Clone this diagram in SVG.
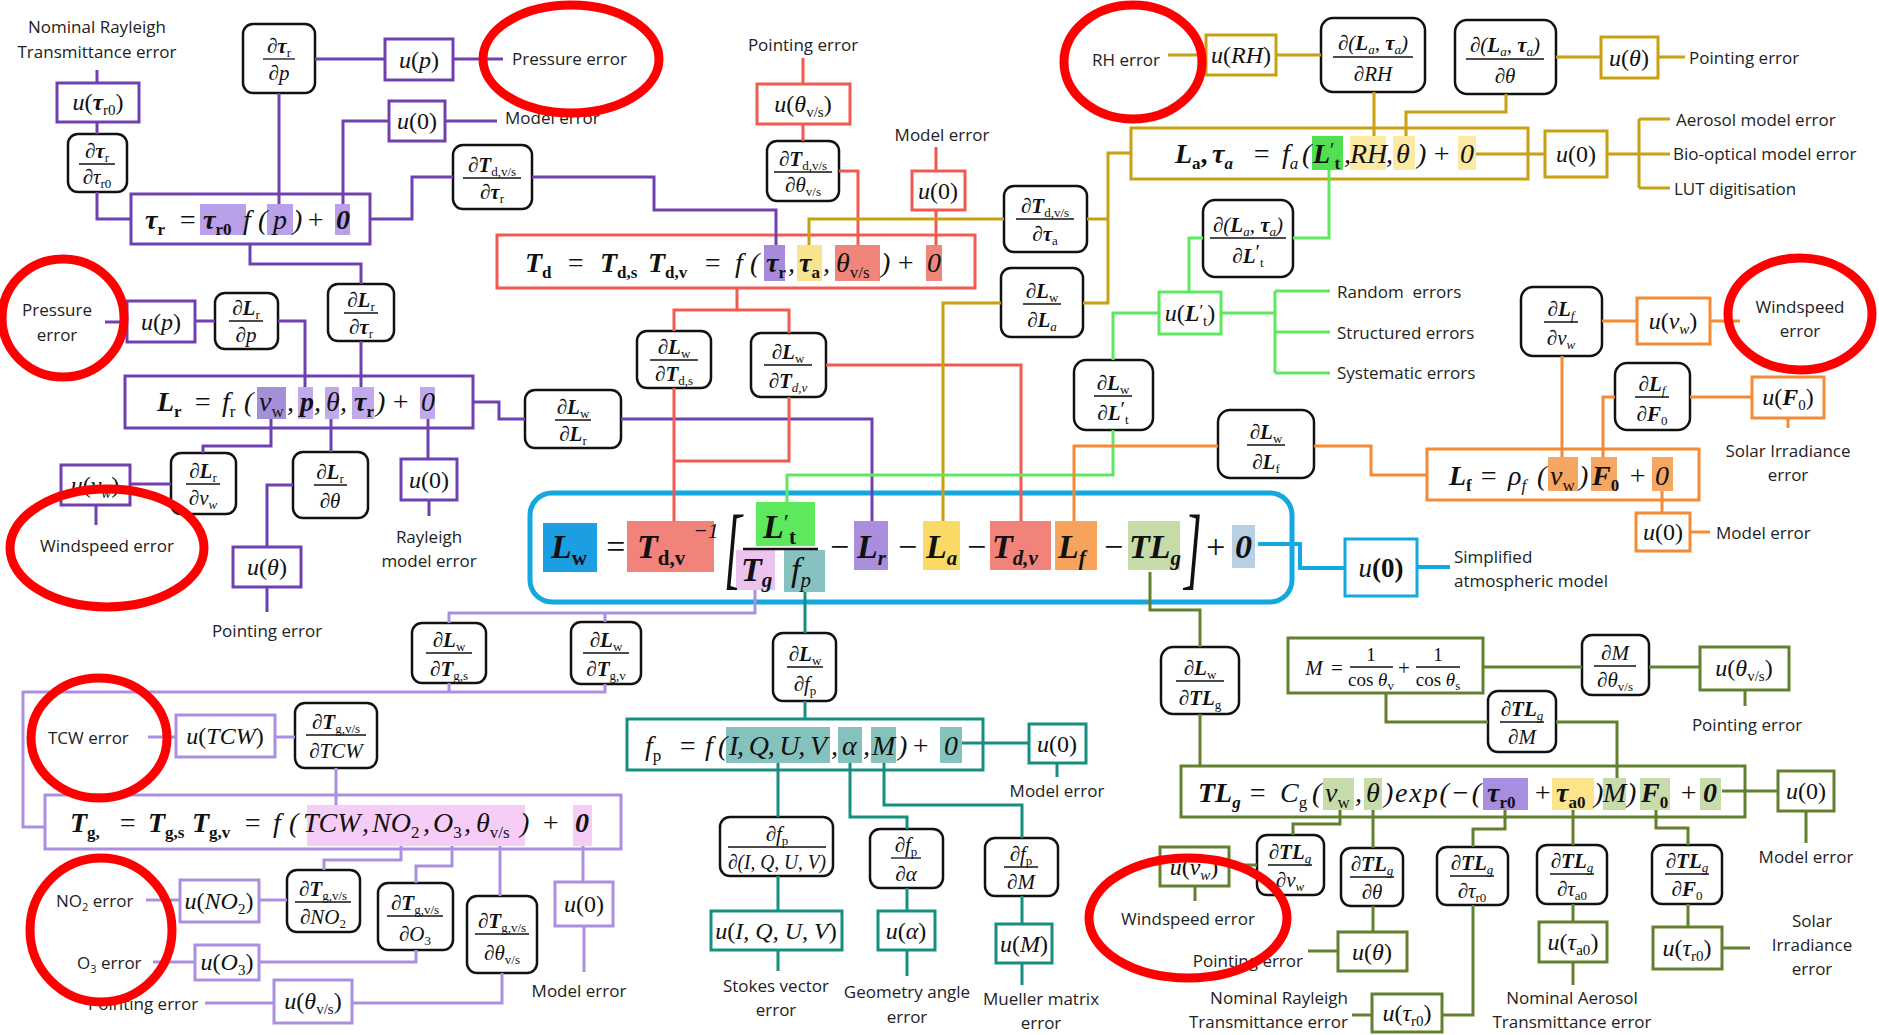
<svg xmlns="http://www.w3.org/2000/svg" width="1879" height="1035" viewBox="0 0 1879 1035">
<style>
.bx{fill:#fff;stroke:#111;stroke-width:2.5}
.k{fill:#fff;stroke-width:3}
.c{fill:none;stroke-width:3}
.pu{stroke:#7040b0}.rd{stroke:#f25a50}.ol{stroke:#c8a012}.gr{stroke:#5ee85e}.or{stroke:#f58a35}.cy{stroke:#14a8e0}.lv{stroke:#ab8fe0}.tl{stroke:#178f80}.dg{stroke:#62802e}
.fl{stroke:#111;stroke-width:1.3}
.fr{font-family:"Liberation Serif","DejaVu Serif",serif;font-size:21px;font-style:italic;text-anchor:middle;fill:#111}
.fs{font-size:13px;font-style:normal}
.fsi{font-size:13px}
.b{font-weight:bold}
.n{font-style:normal}
.u{font-family:"Liberation Serif","DejaVu Serif",serif;font-size:24px;font-style:italic;text-anchor:middle;fill:#111}
.us{font-size:15px;font-style:normal}
.usi{font-size:15px}
.eq{font-family:"Liberation Serif","DejaVu Serif",serif;font-size:28px;font-style:italic;fill:#111}
.eqs{font-size:17px;font-style:normal}
.eqsi{font-size:17px}
.L{font-size:34px}
.Ls{font-size:21px;font-style:normal}
.Lsi{font-size:21px}
.lbl{font-family:"Open Sans","Liberation Sans",sans-serif;font-size:17px;fill:#222}
.mid{text-anchor:middle}
.end{text-anchor:end}
.ann{fill:none;stroke:#ff0000;stroke-width:9}
</style>
<rect width="1879" height="1035" fill="#fff"/>

<!-- ===== Equation nodes ===== -->
<g id="eq_taur">
<rect class="k pu" x="131" y="194" width="239" height="50"/>
<rect x="200" y="204" width="46" height="31" fill="#b9a0e8"/><rect x="267" y="204" width="26" height="31" fill="#b9a0e8"/><rect x="335" y="204" width="15" height="31" fill="#b9a0e8"/>
<text class="eq b" x="145" y="229">τ<tspan class="eqs" dy="6">r</tspan></text>
<text class="eq n" x="178" y="229">=</text>
<text class="eq b" x="203" y="229">τ<tspan class="eqs" dy="6">r0</tspan></text>
<text class="eq" x="243" y="229">f</text>
<text class="eq n" x="258" y="229">(</text>
<text class="eq" x="273" y="229">p</text>
<text class="eq n" x="293" y="229">)</text>
<text class="eq n" x="306" y="229">+</text>
<text class="eq b n" x="336" y="229">0</text>
</g>

<g id="eq_Td">
<rect class="k rd" x="497" y="235" width="478" height="53"/>
<rect x="764" y="245" width="21" height="36" fill="#a68bd9"/><rect x="797" y="245" width="25" height="36" fill="#f8e48e"/><rect x="835" y="245" width="45" height="36" fill="#f08579"/><rect x="926" y="245" width="16" height="36" fill="#f08579"/>
<text class="eq b" x="525" y="272">T<tspan class="eqs" dy="6">d</tspan></text>
<text class="eq n" x="566" y="272">=</text>
<text class="eq b" x="600" y="272">T<tspan class="eqs" dy="6">d,s</tspan></text>
<text class="eq b" x="648" y="272">T<tspan class="eqs" dy="6">d,v</tspan></text>
<text class="eq n" x="703" y="272">=</text>
<text class="eq" x="735" y="272">f</text>
<text class="eq n" x="750" y="272">(</text>
<text class="eq b" x="766" y="272">τ<tspan class="eqs" dy="6">r</tspan></text>
<text class="eq n" x="788" y="272">,</text>
<text class="eq b" x="799" y="272">τ<tspan class="eqs" dy="6">a</tspan></text>
<text class="eq n" x="823" y="272">,</text>
<text class="eq" x="836" y="272">θ<tspan class="eqs" dy="6">v/s</tspan></text>
<text class="eq n" x="881" y="272">)</text>
<text class="eq n" x="896" y="272">+</text>
<text class="eq n" x="927" y="272">0</text>
</g>

<g id="eq_La">
<rect class="k ol" x="1131" y="128" width="397" height="51"/>
<rect x="1312" y="136" width="31" height="34" fill="#52e052"/><rect x="1350" y="136" width="36" height="34" fill="#fce9a4"/><rect x="1393" y="136" width="22" height="34" fill="#fce9a4"/><rect x="1458" y="136" width="18" height="34" fill="#fce9a4"/>
<text class="eq b" x="1175" y="163">L<tspan class="eqs" dy="6">a</tspan><tspan class="n" dy="-6">,</tspan></text>
<text class="eq b" x="1212" y="163">τ<tspan class="eqsi" dy="6">a</tspan></text>
<text class="eq n" x="1252" y="163">=</text>
<text class="eq" x="1282" y="163">f<tspan class="eqsi" dy="6">a</tspan></text>
<text class="eq n" x="1302" y="163">(</text>
<text class="eq b" x="1313" y="163">L<tspan class="n" style="font-weight:normal;font-size:20px" dy="-6">′</tspan><tspan class="eqs" dy="12">t</tspan></text>
<text class="eq n" x="1344" y="163">,</text>
<text class="eq" x="1350" y="163">RH</text>
<text class="eq n" x="1386" y="163">,</text>
<text class="eq" x="1396" y="163">θ</text>
<text class="eq n" x="1417" y="163">)</text>
<text class="eq n" x="1432" y="163">+</text>
<text class="eq n" x="1460" y="163">0</text>
</g>

<g id="eq_Lr">
<rect class="k pu" x="125" y="376" width="348" height="52"/>
<rect x="257" y="387" width="29" height="32" fill="#a48fd9"/><rect x="298" y="387" width="15" height="32" fill="#c1aaec"/><rect x="325" y="387" width="14" height="32" fill="#c1aaec"/><rect x="352" y="387" width="22" height="32" fill="#c1aaec"/><rect x="420" y="387" width="15" height="32" fill="#c1aaec"/>
<text class="eq b" x="157" y="411">L<tspan class="eqs" dy="6">r</tspan></text>
<text class="eq n" x="193" y="411">=</text>
<text class="eq" x="222" y="411">f<tspan class="eqs" dy="6">r</tspan></text>
<text class="eq n" x="244" y="411">(</text>
<text class="eq" x="259" y="411">v<tspan class="eqs" dy="6">w</tspan></text>
<text class="eq n" x="287" y="411">,</text>
<text class="eq b" x="300" y="411">p</text>
<text class="eq n" x="314" y="411">,</text>
<text class="eq" x="326" y="411">θ</text>
<text class="eq n" x="340" y="411">,</text>
<text class="eq b" x="354" y="411">τ<tspan class="eqs" dy="6">r</tspan></text>
<text class="eq n" x="376" y="411">)</text>
<text class="eq n" x="391" y="411">+</text>
<text class="eq n" x="421" y="411">0</text>
</g>

<g id="eq_Lf">
<rect class="k or" x="1427" y="449" width="272" height="51"/>
<rect x="1548" y="457" width="30" height="34" fill="#f5a661"/><rect x="1591" y="457" width="26" height="34" fill="#f5a661"/><rect x="1652" y="457" width="21" height="34" fill="#f5a661"/>
<text class="eq b" x="1449" y="485">L<tspan class="eqs" dy="6">f</tspan></text>
<text class="eq n" x="1479" y="485">=</text>
<text class="eq" x="1508" y="485">ρ<tspan class="eqsi" dy="6">f</tspan></text>
<text class="eq n" x="1537" y="485">(</text>
<text class="eq" x="1550" y="485">v<tspan class="eqs" dy="6">w</tspan></text>
<text class="eq n" x="1579" y="485">)</text>
<text class="eq b" x="1592" y="485">F<tspan class="eqs" dy="6">0</tspan></text>
<text class="eq n" x="1628" y="485">+</text>
<text class="eq n" x="1655" y="485">0</text>
</g>

<g id="eq_Tg">
<rect class="k lv" x="45" y="795" width="576" height="54"/>
<rect x="307" y="805" width="218" height="41" fill="#f6cdf6"/><rect x="573" y="805" width="19" height="41" fill="#f6cdf6"/>
<text class="eq b" x="70" y="832">T<tspan class="eqs" dy="6">g,</tspan></text>
<text class="eq n" x="118" y="832">=</text>
<text class="eq b" x="148" y="832">T<tspan class="eqs" dy="6">g,s</tspan></text>
<text class="eq b" x="192" y="832">T<tspan class="eqs" dy="6">g,v</tspan></text>
<text class="eq n" x="243" y="832">=</text>
<text class="eq" x="273" y="832">f</text>
<text class="eq n" x="289" y="832">(</text>
<text class="eq" x="303" y="832">TCW</text>
<text class="eq n" x="362" y="832">,</text>
<text class="eq" x="372" y="832">NO<tspan class="eqs" dy="6">2</tspan></text>
<text class="eq n" x="423" y="832">,</text>
<text class="eq" x="433" y="832">O<tspan class="eqs" dy="6">3</tspan></text>
<text class="eq n" x="464" y="832">,</text>
<text class="eq" x="476" y="832">θ<tspan class="eqs" dy="6">v/s</tspan></text>
<text class="eq n" x="520" y="832">)</text>
<text class="eq n" x="541" y="832">+</text>
<text class="eq b n" x="575" y="832">0</text>
</g>

<g id="eq_fp">
<rect class="k tl" x="627" y="719" width="356" height="51"/>
<rect x="726" y="727" width="104" height="36" fill="#85c2bd"/><rect x="838" y="727" width="24" height="36" fill="#85c2bd"/><rect x="871" y="727" width="25" height="36" fill="#85c2bd"/><rect x="940" y="727" width="22" height="36" fill="#85c2bd"/>
<text class="eq" x="645" y="755">f<tspan class="eqs" dy="6">p</tspan></text>
<text class="eq n" x="678" y="755">=</text>
<text class="eq" x="705" y="755">f</text>
<text class="eq n" x="718" y="755">(</text>
<text class="eq" x="729" y="755" textLength="98" lengthAdjust="spacing">I, Q, U, V</text>
<text class="eq n" x="831" y="755">,</text>
<text class="eq" x="842" y="755">α</text>
<text class="eq n" x="863" y="755">,</text>
<text class="eq" x="872" y="755">M</text>
<text class="eq n" x="898" y="755">)</text>
<text class="eq n" x="911" y="755">+</text>
<text class="eq n" x="944" y="755">0</text>
</g>

<g id="eq_TLg">
<rect class="k dg" x="1181" y="766" width="564" height="51"/>
<rect x="1323" y="778" width="31" height="32" fill="#c8dcab"/><rect x="1364" y="778" width="18" height="32" fill="#c8dcab"/><rect x="1483" y="778" width="45" height="32" fill="#a88ee0"/><rect x="1552" y="778" width="42" height="32" fill="#fbe48c"/><rect x="1603" y="778" width="23" height="32" fill="#c8dcab"/><rect x="1640" y="778" width="30" height="32" fill="#c8dcab"/><rect x="1700" y="778" width="21" height="32" fill="#c8dcab"/>
<text class="eq b" x="1198" y="802">TL<tspan class="eqsi" dy="6">g</tspan></text>
<text class="eq n" x="1248" y="802">=</text>
<text class="eq" x="1280" y="802">C<tspan class="eqs" dy="6">g</tspan></text>
<text class="eq n" x="1312" y="802">(</text>
<text class="eq" x="1325" y="802">v<tspan class="eqs" dy="6">w</tspan></text>
<text class="eq n" x="1355" y="802">,</text>
<text class="eq" x="1366" y="802">θ</text>
<text class="eq n" x="1384" y="802">)</text>
<text class="eq n" x="1395" y="802" textLength="86" lengthAdjust="spacing">exp(−(</text>
<text class="eq b" x="1487" y="802">τ<tspan class="eqs" dy="6">r0</tspan></text>
<text class="eq n" x="1533" y="802">+</text>
<text class="eq b" x="1556" y="802">τ<tspan class="eqs" dy="6">a0</tspan></text>
<text class="eq n" x="1594" y="802">)</text>
<text class="eq" x="1603" y="802">M</text>
<text class="eq n" x="1627" y="802">)</text>
<text class="eq b" x="1641" y="802">F<tspan class="eqs" dy="6">0</tspan></text>
<text class="eq n" x="1679" y="802">+</text>
<text class="eq b n" x="1703" y="802">0</text>
</g>

<g id="eq_M">
<rect class="k dg" x="1288" y="638" width="195" height="55"/>
<text class="fr" x="1314" y="675">M</text>
<text class="fr n" x="1337" y="675">=</text>
<text class="fr n" x="1371" y="661" style="font-size:19px">1</text>
<path class="fl" d="M1350,667 H1393"/>
<text class="fr n" x="1371" y="686" style="font-size:19px">cos <tspan style="font-style:italic">θ</tspan><tspan class="fsi" dy="4">v</tspan></text>
<text class="fr n" x="1404" y="675">+</text>
<text class="fr n" x="1438" y="661" style="font-size:19px">1</text>
<path class="fl" d="M1416,667 H1460"/>
<text class="fr n" x="1438" y="686" style="font-size:19px">cos <tspan style="font-style:italic">θ</tspan><tspan class="fsi" dy="4">s</tspan></text>
</g>

<g id="eq_Lw">
<rect x="530" y="493" width="762" height="109" rx="22" fill="#fff" stroke="#14a8e0" stroke-width="5"/>
<rect x="543" y="523" width="54" height="49" fill="#1c9fe2"/>
<rect x="627" y="521" width="87" height="51" fill="#f2837b"/>
<rect x="756" y="502" width="59" height="44" fill="#5ee85e"/>
<rect x="736" y="550" width="39" height="40" fill="#ecc3ee"/>
<rect x="784" y="550" width="41" height="42" fill="#88c2c0"/>
<rect x="854" y="521" width="34" height="49" fill="#a98ede"/>
<rect x="923" y="521" width="37" height="49" fill="#fbd966"/>
<rect x="990" y="521" width="61" height="49" fill="#f2837b"/>
<rect x="1055" y="521" width="42" height="49" fill="#f7a35c"/>
<rect x="1128" y="521" width="52" height="49" fill="#c6dba8"/>
<rect x="1232" y="525" width="23" height="43" fill="#b9cfe3"/>
<text class="eq b L" x="551" y="558">L<tspan class="Ls" dy="7">w</tspan></text>
<text class="eq n L" x="604" y="558">=</text>
<text class="eq b L" x="637" y="558">T<tspan class="Ls" dy="7">d,v</tspan></text>
<text class="eq n" x="693" y="538" style="font-size:22px">−1</text>
<text class="eq n" x="0" y="0" style="font-size:92px" transform="translate(724,578) scale(0.5,1)">[</text>
<text class="eq b L" x="763" y="538">L<tspan class="n" style="font-weight:normal;font-size:24px" dy="-8">′</tspan><tspan class="Ls" dy="14">t</tspan></text>
<path d="M743,549 H818" stroke="#111" stroke-width="2.5"/>
<text class="eq b L" x="741" y="581">T<tspan class="Lsi" dy="6">g</tspan></text>
<text class="eq L" x="791" y="581">f<tspan class="Lsi" dy="6">p</tspan></text>
<text class="eq n L" x="828" y="558">−</text>
<text class="eq b L" x="857" y="558">L<tspan class="Lsi" dy="7">r</tspan></text>
<text class="eq n L" x="896" y="558">−</text>
<text class="eq b L" x="926" y="558">L<tspan class="Lsi" dy="7">a</tspan></text>
<text class="eq n L" x="965" y="558">−</text>
<text class="eq b L" x="992" y="558">T<tspan class="Lsi" dy="7">d,v</tspan></text>
<text class="eq b L" x="1058" y="558">L<tspan class="Lsi" dy="7">f</tspan></text>
<text class="eq n L" x="1102" y="558">−</text>
<text class="eq b L" x="1129" y="558">TL<tspan class="Lsi" dy="7">g</tspan></text>
<text class="eq n" x="0" y="0" style="font-size:92px" transform="translate(1184,578) scale(0.5,1)">]</text>
<text class="eq n L" x="1204" y="558">+</text>
<text class="eq b n L" x="1235" y="558">0</text>
</g>

<!-- ===== Partial derivative nodes ===== -->
<g id="d_taur_p"><rect class="bx" x="243" y="24" width="72" height="69" rx="10"/><text class="fr" x="279" y="53">∂<tspan class="b">τ</tspan><tspan class="fs" dy="4">r</tspan></text><path class="fl" d="M263,59 H295"/><text class="fr" x="279" y="80">∂p</text></g>
<g id="d_taur_taur0"><rect class="bx" x="68" y="134" width="59" height="58" rx="10"/><text class="fr" x="97" y="158">∂<tspan class="b">τ</tspan><tspan class="fs" dy="4">r</tspan></text><path class="fl" d="M79,164 H115"/><text class="fr" x="97" y="184">∂τ<tspan class="fs" dy="4">r0</tspan></text></g>
<g id="d_Td_taur"><rect class="bx" x="453" y="145" width="79" height="64" rx="10"/><text class="fr" x="492" y="172">∂<tspan class="b">T</tspan><tspan class="fs" dy="4">d,v/s</tspan></text><path class="fl" d="M463,178 H521"/><text class="fr" x="492" y="199">∂<tspan class="b">τ</tspan><tspan class="fs" dy="4">r</tspan></text></g>
<g id="d_Td_theta"><rect class="bx" x="767" y="141" width="72" height="60" rx="10"/><text class="fr" x="803" y="166">∂<tspan class="b">T</tspan><tspan class="fs" dy="4">d,v/s</tspan></text><path class="fl" d="M774,172 H832"/><text class="fr" x="803" y="192">∂θ<tspan class="fs" dy="4">v/s</tspan></text></g>
<g id="d_Td_taua"><rect class="bx" x="1004" y="186" width="83" height="66" rx="10"/><text class="fr" x="1045" y="213">∂<tspan class="b">T</tspan><tspan class="fs" dy="4">d,v/s</tspan></text><path class="fl" d="M1016,219 H1074"/><text class="fr" x="1045" y="241">∂<tspan class="b">τ</tspan><tspan class="fs" dy="4">a</tspan></text></g>
<g id="d_Lw_La"><rect class="bx" x="1001" y="268" width="82" height="69" rx="10"/><text class="fr" x="1042" y="298">∂<tspan class="b">L</tspan><tspan class="fs" dy="4">w</tspan></text><path class="fl" d="M1023,304 H1061"/><text class="fr" x="1042" y="327">∂<tspan class="b">L</tspan><tspan class="fsi" dy="4">a</tspan></text></g>
<g id="d_LaTa_RH"><rect class="bx" x="1321" y="18" width="104" height="74" rx="12"/><text class="fr" x="1373" y="50">∂(<tspan class="b">L</tspan><tspan class="fsi" dy="4">a</tspan><tspan dy="-4">, </tspan><tspan class="b">τ</tspan><tspan class="fsi" dy="4">a</tspan><tspan dy="-4">)</tspan></text><path class="fl" d="M1333,57 H1413"/><text class="fr" x="1373" y="81">∂RH</text></g>
<g id="d_LaTa_theta"><rect class="bx" x="1455" y="20" width="101" height="74" rx="12"/><text class="fr" x="1505" y="52">∂(<tspan class="b">L</tspan><tspan class="fsi" dy="4">a</tspan><tspan dy="-4">, </tspan><tspan class="b">τ</tspan><tspan class="fsi" dy="4">a</tspan><tspan dy="-4">)</tspan></text><path class="fl" d="M1466,59 H1544"/><text class="fr" x="1505" y="83">∂θ</text></g>
<g id="d_LaTa_Lt"><rect class="bx" x="1203" y="200" width="90" height="77" rx="12"/><text class="fr" x="1248" y="232">∂(<tspan class="b">L</tspan><tspan class="fsi" dy="4">a</tspan><tspan dy="-4">, </tspan><tspan class="b">τ</tspan><tspan class="fsi" dy="4">a</tspan><tspan dy="-4">)</tspan></text><path class="fl" d="M1210,238 H1286"/><text class="fr" x="1248" y="263">∂<tspan class="b">L</tspan><tspan class="n" dy="-4">′</tspan><tspan class="fs" dy="8">t</tspan></text></g>
<g id="d_Lw_Lt"><rect class="bx" x="1074" y="360" width="79" height="70" rx="12"/><text class="fr" x="1113" y="390">∂<tspan class="b">L</tspan><tspan class="fs" dy="4">w</tspan></text><path class="fl" d="M1094,396 H1132"/><text class="fr" x="1113" y="420">∂<tspan class="b">L</tspan><tspan class="n" dy="-4">′</tspan><tspan class="fs" dy="8">t</tspan></text></g>
<g id="d_Lw_Lf"><rect class="bx" x="1218" y="410" width="96" height="68" rx="12"/><text class="fr" x="1266" y="439">∂<tspan class="b">L</tspan><tspan class="fs" dy="4">w</tspan></text><path class="fl" d="M1247,445 H1285"/><text class="fr" x="1266" y="469">∂<tspan class="b">L</tspan><tspan class="fs" dy="4">f</tspan></text></g>
<g id="d_Lf_vw"><rect class="bx" x="1521" y="287" width="81" height="69" rx="12"/><text class="fr" x="1561" y="316">∂<tspan class="b">L</tspan><tspan class="fsi" dy="4">f</tspan></text><path class="fl" d="M1544,322 H1578"/><text class="fr" x="1561" y="345">∂v<tspan class="fsi" dy="4">w</tspan></text></g>
<g id="d_Lf_F0"><rect class="bx" x="1615" y="363" width="75" height="67" rx="12"/><text class="fr" x="1652" y="391">∂<tspan class="b">L</tspan><tspan class="fsi" dy="4">f</tspan></text><path class="fl" d="M1635,397 H1669"/><text class="fr" x="1652" y="421">∂<tspan class="b">F</tspan><tspan class="fs" dy="4">0</tspan></text></g>
<g id="d_Lr_p"><rect class="bx" x="215" y="293" width="63" height="56" rx="10"/><text class="fr" x="246" y="315">∂<tspan class="b">L</tspan><tspan class="fs" dy="4">r</tspan></text><path class="fl" d="M229,321 H263"/><text class="fr" x="246" y="342">∂p</text></g>
<g id="d_Lr_taur"><rect class="bx" x="328" y="284" width="66" height="57" rx="10"/><text class="fr" x="361" y="307">∂<tspan class="b">L</tspan><tspan class="fs" dy="4">r</tspan></text><path class="fl" d="M344,313 H378"/><text class="fr" x="361" y="334">∂<tspan class="b">τ</tspan><tspan class="fs" dy="4">r</tspan></text></g>
<g id="d_Lw_Lr"><rect class="bx" x="525" y="390" width="96" height="58" rx="10"/><text class="fr" x="573" y="414">∂<tspan class="b">L</tspan><tspan class="fs" dy="4">w</tspan></text><path class="fl" d="M555,420 H591"/><text class="fr" x="573" y="441">∂<tspan class="b">L</tspan><tspan class="fs" dy="4">r</tspan></text></g>
<g id="d_Lw_Tds"><rect class="bx" x="637" y="331" width="74" height="57" rx="10"/><text class="fr" x="674" y="354">∂<tspan class="b">L</tspan><tspan class="fs" dy="4">w</tspan></text><path class="fl" d="M650,360 H698"/><text class="fr" x="674" y="381">∂<tspan class="b">T</tspan><tspan class="fs" dy="4">d,s</tspan></text></g>
<g id="d_Lw_Tdv"><rect class="bx" x="751" y="333" width="75" height="64" rx="10"/><text class="fr" x="788" y="359">∂<tspan class="b">L</tspan><tspan class="fs" dy="4">w</tspan></text><path class="fl" d="M764,365 H812"/><text class="fr" x="788" y="388">∂<tspan class="b">T</tspan><tspan class="fsi" dy="4">d,v</tspan></text></g>
<g id="d_Lr_vw"><rect class="bx" x="171" y="453" width="65" height="61" rx="10"/><text class="fr" x="203" y="478">∂<tspan class="b">L</tspan><tspan class="fs" dy="4">r</tspan></text><path class="fl" d="M186,484 H220"/><text class="fr" x="203" y="505">∂v<tspan class="fsi" dy="4">w</tspan></text></g>
<g id="d_Lr_theta"><rect class="bx" x="293" y="452" width="75" height="66" rx="10"/><text class="fr" x="330" y="479">∂<tspan class="b">L</tspan><tspan class="fs" dy="4">r</tspan></text><path class="fl" d="M314,485 H347"/><text class="fr" x="330" y="508">∂θ</text></g>
<g id="d_Lw_Tgs"><rect class="bx" x="412" y="623" width="74" height="60" rx="10"/><text class="fr" x="449" y="647">∂<tspan class="b">L</tspan><tspan class="fs" dy="4">w</tspan></text><path class="fl" d="M426,653 H472"/><text class="fr" x="449" y="676">∂<tspan class="b">T</tspan><tspan class="fs" dy="4">g,s</tspan></text></g>
<g id="d_Lw_Tgv"><rect class="bx" x="571" y="622" width="70" height="62" rx="10"/><text class="fr" x="606" y="647">∂<tspan class="b">L</tspan><tspan class="fs" dy="4">w</tspan></text><path class="fl" d="M583,653 H629"/><text class="fr" x="606" y="676">∂<tspan class="b">T</tspan><tspan class="fs" dy="4">g,v</tspan></text></g>
<g id="d_Lw_fp"><rect class="bx" x="773" y="633" width="63" height="68" rx="10"/><text class="fr" x="805" y="661">∂<tspan class="b">L</tspan><tspan class="fs" dy="4">w</tspan></text><path class="fl" d="M787,667 H823"/><text class="fr" x="805" y="691">∂f<tspan class="fs" dy="4">p</tspan></text></g>
<g id="d_Tg_TCW"><rect class="bx" x="295" y="703" width="82" height="65" rx="10"/><text class="fr" x="336" y="729">∂<tspan class="b">T</tspan><tspan class="fs" dy="4">g,v/s</tspan></text><path class="fl" d="M306,735 H366"/><text class="fr" x="336" y="758">∂TCW</text></g>
<g id="d_Tg_NO2"><rect class="bx" x="287" y="870" width="73" height="62" rx="10"/><text class="fr" x="323" y="896">∂<tspan class="b">T</tspan><tspan class="fs" dy="4">g,v/s</tspan></text><path class="fl" d="M295,902 H351"/><text class="fr" x="323" y="924">∂NO<tspan class="fs" dy="4">2</tspan></text></g>
<g id="d_Tg_O3"><rect class="bx" x="378" y="883" width="75" height="67" rx="10"/><text class="fr" x="415" y="910">∂<tspan class="b">T</tspan><tspan class="fs" dy="4">g,v/s</tspan></text><path class="fl" d="M387,916 H443"/><text class="fr" x="415" y="941">∂O<tspan class="fs" dy="4">3</tspan></text></g>
<g id="d_Tg_theta"><rect class="bx" x="467" y="896" width="70" height="77" rx="10"/><text class="fr" x="502" y="928">∂<tspan class="b">T</tspan><tspan class="fs" dy="4">g,v/s</tspan></text><path class="fl" d="M475,934 H529"/><text class="fr" x="502" y="960">∂θ<tspan class="fs" dy="4">v/s</tspan></text></g>
<g id="d_fp_IQUV"><rect class="bx" x="720" y="817" width="113" height="59" rx="10"/><text class="fr" x="777" y="841">∂f<tspan class="fs" dy="4">p</tspan></text><path class="fl" d="M728,847 H826"/><text class="fr" x="777" y="869" textLength="98" lengthAdjust="spacingAndGlyphs">∂(I, Q, U, V)</text></g>
<g id="d_fp_alpha"><rect class="bx" x="870" y="829" width="73" height="59" rx="10"/><text class="fr" x="906" y="852">∂f<tspan class="fs" dy="4">p</tspan></text><path class="fl" d="M891,858 H921"/><text class="fr" x="906" y="881">∂α</text></g>
<g id="d_fp_M"><rect class="bx" x="985" y="838" width="73" height="58" rx="10"/><text class="fr" x="1021" y="861">∂f<tspan class="fs" dy="4">p</tspan></text><path class="fl" d="M1004,867 H1038"/><text class="fr" x="1021" y="889">∂M</text></g>
<g id="d_Lw_TLg"><rect class="bx" x="1161" y="647" width="78" height="67" rx="12"/><text class="fr" x="1200" y="675">∂<tspan class="b">L</tspan><tspan class="fs" dy="4">w</tspan></text><path class="fl" d="M1176,681 H1224"/><text class="fr" x="1200" y="705">∂<tspan class="b">TL</tspan><tspan class="fs" dy="4">g</tspan></text></g>
<g id="d_M_theta"><rect class="bx" x="1582" y="635" width="67" height="60" rx="10"/><text class="fr" x="1615" y="660">∂M</text><path class="fl" d="M1594,666 H1636"/><text class="fr" x="1615" y="687">∂θ<tspan class="fs" dy="4">v/s</tspan></text></g>
<g id="d_TLg_M"><rect class="bx" x="1488" y="691" width="68" height="61" rx="10"/><text class="fr" x="1522" y="716">∂<tspan class="b">TL</tspan><tspan class="fsi" dy="4">g</tspan></text><path class="fl" d="M1500,722 H1544"/><text class="fr" x="1522" y="744">∂M</text></g>
<g id="d_TLg_vw"><rect class="bx" x="1257" y="835" width="67" height="60" rx="10"/><text class="fr" x="1290" y="859">∂<tspan class="b">TL</tspan><tspan class="fsi" dy="4">g</tspan></text><path class="fl" d="M1268,865 H1312"/><text class="fr" x="1290" y="887">∂v<tspan class="fsi" dy="4">w</tspan></text></g>
<g id="d_TLg_theta"><rect class="bx" x="1341" y="848" width="62" height="58" rx="10"/><text class="fr" x="1372" y="871">∂<tspan class="b">TL</tspan><tspan class="fsi" dy="4">g</tspan></text><path class="fl" d="M1350,877 H1394"/><text class="fr" x="1372" y="899">∂θ</text></g>
<g id="d_TLg_taur0"><rect class="bx" x="1437" y="847" width="71" height="58" rx="10"/><text class="fr" x="1472" y="870">∂<tspan class="b">TL</tspan><tspan class="fsi" dy="4">g</tspan></text><path class="fl" d="M1450,876 H1494"/><text class="fr" x="1472" y="898">∂τ<tspan class="fs" dy="4">r0</tspan></text></g>
<g id="d_TLg_taua0"><rect class="bx" x="1537" y="845" width="70" height="59" rx="10"/><text class="fr" x="1572" y="868">∂<tspan class="b">TL</tspan><tspan class="fsi" dy="4">g</tspan></text><path class="fl" d="M1550,874 H1594"/><text class="fr" x="1572" y="896">∂τ<tspan class="fs" dy="4">a0</tspan></text></g>
<g id="d_TLg_F0"><rect class="bx" x="1652" y="845" width="70" height="59" rx="10"/><text class="fr" x="1687" y="868">∂<tspan class="b">TL</tspan><tspan class="fsi" dy="4">g</tspan></text><path class="fl" d="M1665,874 H1709"/><text class="fr" x="1687" y="896">∂<tspan class="b">F</tspan><tspan class="fs" dy="4">0</tspan></text></g>

<!-- ===== Uncertainty nodes ===== -->
<g id="u_taur0"><rect class="k pu" x="57" y="83" width="82" height="39"/><text class="u" x="98" y="110">u<tspan class="n">(</tspan><tspan class="b">τ</tspan><tspan class="us" dy="5">r0</tspan><tspan class="n" dy="-5">)</tspan></text></g>
<g id="u_p1"><rect class="k pu" x="385" y="39" width="68" height="41"/><text class="u" x="419" y="68">u<tspan class="n">(</tspan>p<tspan class="n">)</tspan></text></g>
<g id="u_01"><rect class="k pu" x="389" y="101" width="56" height="40"/><text class="u" x="417" y="129">u<tspan class="n">(0)</tspan></text></g>
<g id="u_p2"><rect class="k pu" x="127" y="301" width="68" height="41"/><text class="u" x="161" y="330">u<tspan class="n">(</tspan>p<tspan class="n">)</tspan></text></g>
<g id="u_vw1"><rect class="k pu" x="61" y="465" width="69" height="40"/><text class="u" x="95" y="493">u<tspan class="n">(</tspan>v<tspan class="usi" dy="5">w</tspan><tspan class="n" dy="-5">)</tspan></text></g>
<g id="u_th1"><rect class="k pu" x="233" y="547" width="68" height="40"/><text class="u" x="267" y="575">u<tspan class="n">(</tspan>θ<tspan class="n">)</tspan></text></g>
<g id="u_02"><rect class="k pu" x="401" y="459" width="56" height="41"/><text class="u" x="429" y="488">u<tspan class="n">(0)</tspan></text></g>
<g id="u_thvs1"><rect class="k rd" x="757" y="84" width="93" height="40"/><text class="u" x="803" y="112">u<tspan class="n">(</tspan>θ<tspan class="us" dy="5">v/s</tspan><tspan class="n" dy="-5">)</tspan></text></g>
<g id="u_03"><rect class="k rd" x="912" y="171" width="53" height="39"/><text class="u" x="938" y="199">u<tspan class="n">(0)</tspan></text></g>
<g id="u_RH"><rect class="k ol" x="1206" y="35" width="70" height="40"/><text class="u" x="1241" y="63">u<tspan class="n">(</tspan>RH<tspan class="n">)</tspan></text></g>
<g id="u_th2"><rect class="k ol" x="1601" y="37" width="57" height="41"/><text class="u" x="1629" y="66">u<tspan class="n">(</tspan>θ<tspan class="n">)</tspan></text></g>
<g id="u_04"><rect class="k ol" x="1545" y="131" width="62" height="46"/><text class="u" x="1576" y="162">u<tspan class="n">(0)</tspan></text></g>
<g id="u_Lt"><rect class="k gr" x="1159" y="292" width="62" height="42"/><text class="u" x="1190" y="321">u<tspan class="n">(</tspan><tspan class="b">L</tspan><tspan class="n" dy="-5" style="font-size:17px">′</tspan><tspan class="us" dy="10">t</tspan><tspan class="n" dy="-5">)</tspan></text></g>
<g id="u_vw2"><rect class="k or" x="1637" y="298" width="73" height="46"/><text class="u" x="1673" y="329">u<tspan class="n">(</tspan>v<tspan class="usi" dy="5">w</tspan><tspan class="n" dy="-5">)</tspan></text></g>
<g id="u_F0"><rect class="k or" x="1752" y="377" width="72" height="41"/><text class="u" x="1788" y="405">u<tspan class="n">(</tspan><tspan class="b">F</tspan><tspan class="us" dy="5">0</tspan><tspan class="n" dy="-5">)</tspan></text></g>
<g id="u_05"><rect class="k or" x="1636" y="513" width="54" height="38"/><text class="u" x="1663" y="540">u<tspan class="n">(0)</tspan></text></g>
<g id="u_06"><rect class="k cy" x="1345" y="539" width="72" height="57"/><text class="u" x="1381" y="577" style="font-size:27px">u<tspan class="n b">(0)</tspan></text></g>
<g id="u_TCW"><rect class="k lv" x="176" y="715" width="99" height="42"/><text class="u" x="225" y="744">u<tspan class="n">(</tspan>TCW<tspan class="n">)</tspan></text></g>
<g id="u_NO2"><rect class="k lv" x="180" y="880" width="79" height="42"/><text class="u" x="219" y="909">u<tspan class="n">(</tspan>NO<tspan class="us" dy="5">2</tspan><tspan class="n" dy="-5">)</tspan></text></g>
<g id="u_O3"><rect class="k lv" x="195" y="945" width="64" height="35"/><text class="u" x="227" y="970">u<tspan class="n">(</tspan>O<tspan class="us" dy="5">3</tspan><tspan class="n" dy="-5">)</tspan></text></g>
<g id="u_thvs2"><rect class="k lv" x="274" y="980" width="78" height="43"/><text class="u" x="313" y="1009">u<tspan class="n">(</tspan>θ<tspan class="us" dy="5">v/s</tspan><tspan class="n" dy="-5">)</tspan></text></g>
<g id="u_07"><rect class="k lv" x="555" y="882" width="58" height="44"/><text class="u" x="584" y="912">u<tspan class="n">(0)</tspan></text></g>
<g id="u_IQUV"><rect class="k tl" x="711" y="911" width="131" height="39"/><text class="u" x="776" y="939">u<tspan class="n">(</tspan>I, Q, U, V<tspan class="n">)</tspan></text></g>
<g id="u_alpha"><rect class="k tl" x="878" y="911" width="57" height="39"/><text class="u" x="906" y="939">u<tspan class="n">(</tspan>α<tspan class="n">)</tspan></text></g>
<g id="u_M"><rect class="k tl" x="996" y="924" width="56" height="39"/><text class="u" x="1024" y="952">u<tspan class="n">(</tspan>M<tspan class="n">)</tspan></text></g>
<g id="u_08"><rect class="k tl" x="1029" y="724" width="57" height="39"/><text class="u" x="1057" y="752">u<tspan class="n">(0)</tspan></text></g>
<g id="u_thvs3"><rect class="k dg" x="1700" y="647" width="89" height="43"/><text class="u" x="1744" y="676">u<tspan class="n">(</tspan>θ<tspan class="us" dy="5">v/s</tspan><tspan class="n" dy="-5">)</tspan></text></g>
<g id="u_09"><rect class="k dg" x="1778" y="771" width="56" height="40"/><text class="u" x="1806" y="799">u<tspan class="n">(0)</tspan></text></g>
<g id="u_vw3"><rect class="k dg" x="1160" y="847" width="69" height="39"/><text class="u" x="1194" y="875">u<tspan class="n">(</tspan>v<tspan class="usi" dy="5">w</tspan><tspan class="n" dy="-5">)</tspan></text></g>
<g id="u_th3"><rect class="k dg" x="1338" y="932" width="69" height="39"/><text class="u" x="1372" y="960">u<tspan class="n">(</tspan>θ<tspan class="n">)</tspan></text></g>
<g id="u_taur0b"><rect class="k dg" x="1372" y="994" width="70" height="38"/><text class="u" x="1407" y="1021">u<tspan class="n">(</tspan>τ<tspan class="us" dy="5">r0</tspan><tspan class="n" dy="-5">)</tspan></text></g>
<g id="u_taua0"><rect class="k dg" x="1539" y="922" width="68" height="40"/><text class="u" x="1573" y="950">u<tspan class="n">(</tspan>τ<tspan class="us" dy="5">a0</tspan><tspan class="n" dy="-5">)</tspan></text></g>
<g id="u_taur0c"><rect class="k dg" x="1653" y="927" width="69" height="42"/><text class="u" x="1687" y="956">u<tspan class="n">(</tspan>τ<tspan class="us" dy="5">r0</tspan><tspan class="n" dy="-5">)</tspan></text></g>

<!-- ===== Connectors ===== -->
<g id="connectors">
<path class="c pu" d="M97,70 V83 M97,122 V134 M97,192 V219 H131 M279,93 V204 M315,59 H385 M453,59 H503 M389,121 H343 V204 M445,121 H497 M370,219 H412 V177 H453 M532,177 H654 V210 H776 V245 M250,244 V264 H361 V284 M105,322 H127 M195,321 H215 M278,321 H305 V387 M473,402 H499 V419 H525 M621,419 H872 V521 M361,341 V387 M271,419 V446 H203 V453 M171,484 H130 M96,505 V525 M331,419 V452 M293,485 H267 V547 M267,587 V612 M428,419 V459 M429,500 V516"/>
<path class="c rd" d="M803,58 V84 M803,124 V141 M839,171 H858 V245 M936,147 V171 M936,210 V245 M737,288 V310 H674 V331 M737,310 H789 V333 M674,388 V521 M789,397 V461 H674 M826,365 H1021 V521"/>
<path class="c ol" d="M1168,55 H1206 M1276,55 H1321 M1374,92 V136 M1506,94 V112 H1406 V136 M1556,57 H1601 M1658,57 H1685 M1476,154 H1545 M1607,154 H1639 M1639,119 V188 M1639,119 H1670 M1639,154 H1670 M1639,188 H1670 M1131,153 H1108 V303 H1083 M1108,219 H1087 M1004,219 H809 V245 M1001,303 H943 V521"/>
<path class="c gr" d="M1329,170 V238 H1293 M1203,238 H1189 V292 M1221,313 H1275 M1275,291 V373 M1275,291 H1330 M1275,332 H1330 M1275,373 H1330 M1159,313 H1113 V360 M1113,430 V475 H787 V502"/>
<path class="c or" d="M1602,321 H1637 M1710,321 H1740 M1562,356 V457 M1615,397 H1603 V457 M1690,397 H1752 M1788,418 V428 M1662,491 V513 M1690,532 H1710 M1218,446 H1074 V521 M1314,446 H1371 V475 H1427"/>
<path class="c cy" style="stroke-width:4" d="M1258,544 H1300 V568 H1345 M1417,567 H1450"/>
<path class="c lv" d="M755,590 V613 H449 V623 M605,613 V622 M449,683 V692 H23 V827 H45 M605,684 V692 H449 M148,737 H176 M275,737 H295 M336,768 V805 M401,846 V860 H324 V870 M452,846 V866 H416 V883 M146,900 H180 M259,900 H287 M153,962 H195 M259,962 H416 V950 M205,1003 H274 M352,1003 H502 V973 M500,846 V896 M583,846 V882 M584,926 V972"/>
<path class="c tl" d="M805,592 V633 M805,701 V719 M778,763 V817 M778,876 V911 M778,950 V971 M850,763 V817 H907 V829 M907,888 V911 M907,950 V976 M884,763 V805 H1022 V838 M1022,896 V924 M1022,963 V985 M962,743 H1029 M1057,763 V777"/>
<path class="c dg" d="M1150,572 V610 H1200 V647 M1200,714 V766 M1483,667 H1582 M1649,667 H1700 M1745,690 V706 M1386,693 V722 H1488 M1556,722 H1617 V778 M1722,791 H1778 M1806,811 V843 M1340,810 V824 H1293 V835 M1257,865 H1229 M1195,886 V901 M1373,810 V848 M1373,906 V932 M1338,951 H1308 M1352,1015 H1372 M1442,1015 H1473 V905 M1505,810 V829 H1473 V847 M1573,810 V845 M1573,904 V922 M1573,962 V985 M1656,810 V828 H1688 V845 M1688,904 V927 M1722,948 H1750"/>
</g>

<!-- ===== Labels ===== -->
<g id="labels" class="lbl">
<text class="mid" x="97" y="33">Nominal Rayleigh</text>
<text class="mid" x="97" y="58">Transmittance error</text>
<text x="512" y="65">Pressure error</text>
<text x="505" y="124">Model error</text>
<text class="mid" x="803" y="51">Pointing error</text>
<text class="mid" x="942" y="141">Model error</text>
<text class="mid" x="1126" y="66">RH error</text>
<text x="1689" y="64">Pointing error</text>
<text x="1676" y="126">Aerosol model error</text>
<text x="1673" y="160">Bio-optical model error</text>
<text x="1674" y="195">LUT digitisation</text>
<text x="1337" y="298" style="white-space:pre">Random  errors</text>
<text x="1337" y="339">Structured errors</text>
<text x="1337" y="379">Systematic errors</text>
<text class="mid" x="1800" y="313">Windspeed</text>
<text class="mid" x="1800" y="337">error</text>
<text class="mid" x="57" y="316">Pressure</text>
<text class="mid" x="57" y="341">error</text>
<text class="mid" x="107" y="552">Windspeed error</text>
<text class="mid" x="267" y="637">Pointing error</text>
<text class="mid" x="429" y="543">Rayleigh</text>
<text class="mid" x="429" y="567">model error</text>
<text class="mid" x="1788" y="457">Solar Irradiance</text>
<text class="mid" x="1788" y="481">error</text>
<text x="1716" y="539">Model error</text>
<text x="1454" y="563">Simplified</text>
<text x="1454" y="587">atmospheric model</text>
<text class="mid" x="1747" y="731">Pointing error</text>
<text class="mid" x="1057" y="797">Model error</text>
<text class="mid" x="1806" y="863">Model error</text>
<text x="48" y="744">TCW error</text>
<text x="56" y="907">NO<tspan style="font-size:11px" dy="4">2</tspan><tspan dy="-4"> error</tspan></text>
<text x="77" y="969">O<tspan style="font-size:11px" dy="4">3</tspan><tspan dy="-4"> error</tspan></text>
<text x="88" y="1010">Pointing error</text>
<text class="mid" x="579" y="997">Model error</text>
<text class="mid" x="776" y="992">Stokes vector</text>
<text class="mid" x="776" y="1016">error</text>
<text class="mid" x="907" y="998">Geometry angle</text>
<text class="mid" x="907" y="1023">error</text>
<text class="mid" x="1041" y="1005">Mueller matrix</text>
<text class="mid" x="1041" y="1029">error</text>
<text class="mid" x="1188" y="925">Windspeed error</text>
<text class="end" x="1303" y="967">Pointing error</text>
<text class="end" x="1348" y="1004">Nominal Rayleigh</text>
<text class="end" x="1348" y="1028">Transmittance error</text>
<text class="mid" x="1572" y="1004">Nominal Aerosol</text>
<text class="mid" x="1572" y="1028">Transmittance error</text>
<text class="mid" x="1812" y="927">Solar</text>
<text class="mid" x="1812" y="951">Irradiance</text>
<text class="mid" x="1812" y="975">error</text>
</g>

<!-- ===== Red annotation ellipses ===== -->
<g id="annotations">
<ellipse class="ann" cx="571" cy="59" rx="88" ry="54"/>
<ellipse class="ann" cx="63" cy="318" rx="61" ry="59"/>
<ellipse class="ann" cx="1133" cy="62" rx="69" ry="57"/>
<ellipse class="ann" cx="1800" cy="314" rx="72" ry="56"/>
<ellipse class="ann" cx="107" cy="548" rx="97" ry="59"/>
<ellipse class="ann" cx="99" cy="738" rx="68" ry="60"/>
<ellipse class="ann" cx="101" cy="930" rx="71" ry="72"/>
<ellipse class="ann" cx="1188" cy="918" rx="99" ry="60"/>
</g>
</svg>
